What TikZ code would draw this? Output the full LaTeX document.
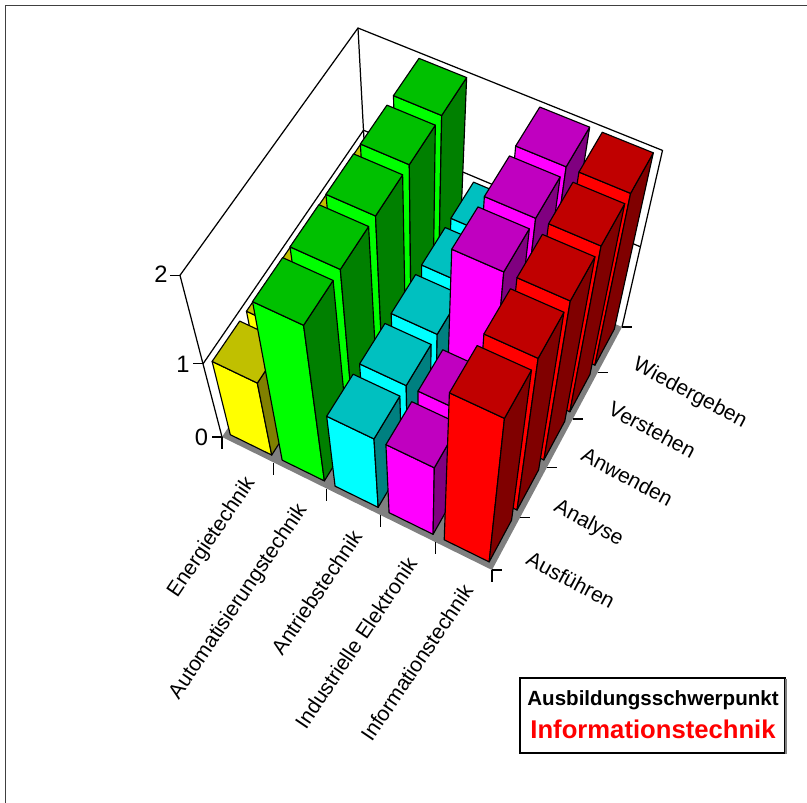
\documentclass[tikz,border=0pt]{standalone}
\usepackage{xcolor}
\usepackage{fontspec}
\setmainfont{Liberation Sans}
\usepackage{tikz}
\usetikzlibrary{positioning}

% perspective of the chart box: x = field, y = level, z = value
\pgfkeys{/chartcs/.cd, x/.store in=\chartx, y/.store in=\charty, z/.store in=\chartz}
\tikzdeclarecoordinatesystem{chart}{%
  \pgfkeys{/chartcs/.cd, x=0, y=0, z=0, #1}%
  \pgfmathsetmacro\chartw{1-0.010024*(\chartx)+0.017807*(\charty)-0.08714*(\chartz)}%
  \pgfmathsetmacro\chartu{(222+49.068*(\chartx)+35.775*(\charty)-36.69*(\chartz))/\chartw}%
  \pgfmathsetmacro\chartv{(437+20.886*(\chartx)-40.341*(\charty)-104.83*(\chartz))/\chartw}%
  \pgfpointxy{\chartu}{\chartv}%
}

% one bar: field, level, value, colour prefix
\newcommand{\chartbar}[4]{%
  \filldraw[barline, fill=#4front] (chart cs:x=#1+0.1,y=#2+0.1) -- (chart cs:x=#1+0.9,y=#2+0.1)
    -- (chart cs:x=#1+0.9,y=#2+0.1,z=#3) -- (chart cs:x=#1+0.1,y=#2+0.1,z=#3) -- cycle;
  \filldraw[barline, fill=#4side] (chart cs:x=#1+0.9,y=#2+0.1) -- (chart cs:x=#1+0.9,y=#2+0.9)
    -- (chart cs:x=#1+0.9,y=#2+0.9,z=#3) -- (chart cs:x=#1+0.9,y=#2+0.1,z=#3) -- cycle;
  \filldraw[barline, fill=#4top] (chart cs:x=#1+0.1,y=#2+0.1,z=#3) -- (chart cs:x=#1+0.9,y=#2+0.1,z=#3)
    -- (chart cs:x=#1+0.9,y=#2+0.9,z=#3) -- (chart cs:x=#1+0.1,y=#2+0.9,z=#3) -- cycle;
}

\begin{document}
\begin{tikzpicture}[x=0.02cm, y=-0.02cm,
    barline/.style={draw=black, line width=0.65pt, line join=round},
    wall/.style={draw=black, line width=0.7pt},
    tick/.style={draw=black, line width=0.7pt},
    axislabel/.style={font=\fontsize{12}{14}\selectfont, inner sep=1pt},
    valuelabel/.style={font=\fontsize{13.5}{16}\selectfont, inner sep=1pt}]
  \definecolor{energyfront}{HTML}{FFFF00}
  \definecolor{energytop}{HTML}{C0C000}
  \definecolor{energyside}{HTML}{808000}
  \definecolor{autofront}{HTML}{00FF00}
  \definecolor{autotop}{HTML}{00C000}
  \definecolor{autoside}{HTML}{008000}
  \definecolor{drivefront}{HTML}{00FFFF}
  \definecolor{drivetop}{HTML}{00C0C0}
  \definecolor{driveside}{HTML}{008080}
  \definecolor{elecfront}{HTML}{FF00FF}
  \definecolor{electop}{HTML}{C000C0}
  \definecolor{elecside}{HTML}{800080}
  \definecolor{infofront}{HTML}{FF0000}
  \definecolor{infotop}{HTML}{C00000}
  \definecolor{infoside}{HTML}{800000}
  \definecolor{floorgray}{HTML}{808080}

  \useasboundingbox (0,0) rectangle (807,803);
  \draw[black!75, line width=1.1pt] (5.5,803) -- (5.5,5.5) -- (807,5.5);

  % floor and walls
  \fill[floorgray] (chart cs:x=0,y=0) -- (chart cs:x=5,y=0) -- (chart cs:x=5,y=5) -- (chart cs:x=0,y=5) -- cycle;
  \draw[wall] (chart cs:x=0,y=0) -- (chart cs:x=0,y=0,z=2) -- (chart cs:x=0,y=5,z=2)
    -- (chart cs:x=5,y=5,z=2) -- (chart cs:x=5,y=5);
  \draw[wall] (chart cs:x=0,y=5) -- (chart cs:x=0,y=5,z=2);
  \draw[wall] (chart cs:x=0,y=0,z=1) -- (chart cs:x=0,y=5,z=1) -- (chart cs:x=5,y=5,z=1);

  % bars, back row first
  \chartbar{0}{4}{1}{energy}
  \chartbar{1}{4}{2}{auto}
  \chartbar{2}{4}{1}{drive}
  \chartbar{3}{4}{2}{elec}
  \chartbar{4}{4}{2}{info}

  \chartbar{0}{3}{1}{energy}
  \chartbar{1}{3}{2}{auto}
  \chartbar{2}{3}{1}{drive}
  \chartbar{3}{3}{2}{elec}
  \chartbar{4}{3}{2}{info}

  \chartbar{0}{2}{1}{energy}
  \chartbar{1}{2}{2}{auto}
  \chartbar{2}{2}{1}{drive}
  \chartbar{3}{2}{2}{elec}
  \chartbar{4}{2}{2}{info}

  \chartbar{0}{1}{1}{energy}
  \chartbar{1}{1}{2}{auto}
  \chartbar{2}{1}{1}{drive}
  \chartbar{3}{1}{1}{elec}
  \chartbar{4}{1}{2}{info}

  \chartbar{0}{0}{1}{energy}
  \chartbar{1}{0}{2}{auto}
  \chartbar{2}{0}{1}{drive}
  \chartbar{3}{0}{1}{elec}
  \chartbar{4}{0}{2}{info}

  % ticks
  \draw[tick] (chart cs:x=0,y=0,z=0) -- ++(-10,0);
  \draw[tick] (chart cs:x=0,y=0,z=1) -- ++(-10,0);
  \draw[tick] (chart cs:x=0,y=0,z=2) -- ++(-10,0);
  \draw[tick] (chart cs:x=0,y=0) -- ++(0,12);
  \draw[tick] (chart cs:x=1,y=0) -- ++(0,12);
  \draw[tick] (chart cs:x=2,y=0) -- ++(0,12);
  \draw[tick] (chart cs:x=3,y=0) -- ++(0,12);
  \draw[tick] (chart cs:x=4,y=0) -- ++(0,12);
  \draw[tick] (chart cs:x=5,y=0) -- ++(0,12);
  \draw[tick] (chart cs:x=5,y=0) -- ++(10,0);
  \draw[tick] (chart cs:x=5,y=1) -- ++(10,0);
  \draw[tick] (chart cs:x=5,y=2) -- ++(10,0);
  \draw[tick] (chart cs:x=5,y=3) -- ++(10,0);
  \draw[tick] (chart cs:x=5,y=4) -- ++(10,0);
  \draw[tick] (chart cs:x=5,y=5) -- ++(10,0);

  % value axis
  \node[valuelabel] (val0) at (201.5,437) {0};
  \node[valuelabel] (val1) at (183,364) {1};
  \node[valuelabel] (val2) at (161,274) {2};

  % fields
  \node[axislabel, anchor=east, rotate=56] (fieldEnergie) at (252,478) {Energietechnik};
  \node[axislabel, anchor=east, rotate=56] (fieldAuto) at (304,505) {Automatisierungstechnik};
  \node[axislabel, anchor=east, rotate=56] (fieldAntrieb) at (358,531) {Antriebstechnik};
  \node[axislabel, anchor=east, rotate=56] (fieldElektronik) at (413,558) {Industrielle Elektronik};
  \node[axislabel, anchor=east, rotate=56] (fieldInfo) at (469,585) {Informationstechnik};

  % levels
  \node[axislabel, anchor=base west, rotate=-28] (lvlAusfuehren) at (523,563) {Ausführen};
  \node[axislabel, anchor=base west, rotate=-28] (lvlAnalyse) at (551,510) {Analyse};
  \node[axislabel, anchor=base west, rotate=-28] (lvlAnwenden) at (578,459) {Anwenden};
  \node[axislabel, anchor=base west, rotate=-28] (lvlVerstehen) at (605,413) {Verstehen};
  \node[axislabel, anchor=base west, rotate=-28] (lvlWiedergeben) at (630,368) {Wiedergeben};

  % legend
  \draw[black, line width=0.6pt] (520,678) rectangle (785,753);
  \draw[gray, line width=1.2pt] (786,679) -- (786,754);
  \node[anchor=base, font=\fontsize{11.7}{14}\selectfont\bfseries] (legTitle) at (653,705) {Ausbildungsschwerpunkt};
  \node[anchor=base, text=red, font=\fontsize{14.6}{17}\selectfont\bfseries] (legField) at (653,738) {Informationstechnik};
\end{tikzpicture}
\end{document}
